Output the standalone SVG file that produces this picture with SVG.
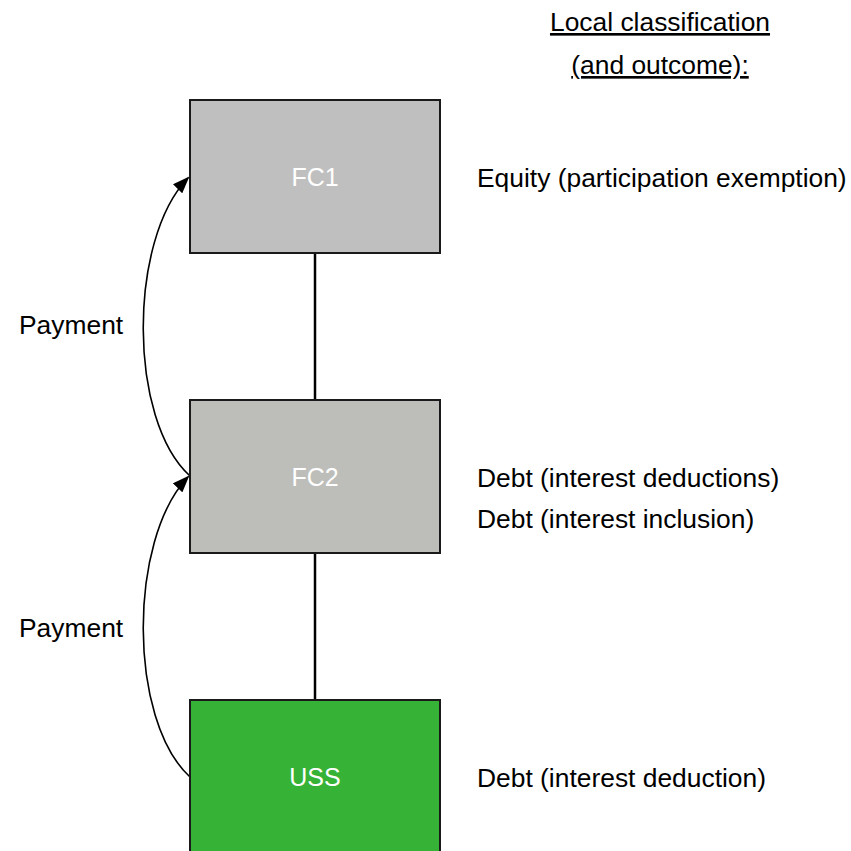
<svg xmlns="http://www.w3.org/2000/svg" width="851" height="851" viewBox="0 0 851 851">
  <style>
    .box { stroke: #1a1a1a; stroke-width: 2; }
    .name { font-family: "Liberation Sans", Arial, sans-serif; font-size: 25px; fill: #ffffff; text-anchor: middle; }
    .lbl { font-family: "Liberation Sans", Arial, sans-serif; font-size: 26.4px; fill: #000000; }
    .link { stroke: #000000; stroke-width: 2.5; fill: none; }
    .pay { stroke: #000000; stroke-width: 1.6; fill: none; marker-end: url(#arrow); }
  </style>
  <defs>
    <marker id="arrow" markerWidth="17" markerHeight="13" refX="15" refY="6.5" orient="auto" markerUnits="userSpaceOnUse">
      <path d="M0,0 L17,6.5 L0,13 Z" fill="#000000"/>
    </marker>
  </defs>
  <rect width="851" height="851" fill="#ffffff"/>

  <!-- ownership links and payment flows -->
  <g id="connectors">
    <line class="link" x1="315" y1="253" x2="315" y2="400"/>
    <line class="link" x1="315" y1="553" x2="315" y2="700"/>
    <path class="pay" d="M190,476 C128,420 128,240 188,178"/>
    <path class="pay" d="M190,777 C128,720 128,540 188,477"/>
  </g>

  <g id="fc1">
    <rect class="box" x="190" y="100" width="250" height="153" fill="#bfbfbf"/>
    <text class="name" x="315" y="186">FC1</text>
  </g>
  <g id="fc2">
    <rect class="box" x="190" y="400" width="250" height="153" fill="#bdbdb9"/>
    <text class="name" x="315" y="486">FC2</text>
  </g>
  <g id="uss">
    <rect class="box" x="190" y="700" width="250" height="160" fill="#36b236"/>
    <text class="name" x="315" y="786">USS</text>
  </g>

  <g id="labels">
    <text class="lbl" x="660" y="31" text-anchor="middle" text-decoration="underline">Local classification</text>
    <text class="lbl" x="660" y="74" text-anchor="middle" text-decoration="underline">(and outcome):</text>
    <text class="lbl" x="477" y="187">Equity (participation exemption)</text>
    <text class="lbl" x="477" y="487">Debt (interest deductions)</text>
    <text class="lbl" x="477" y="528">Debt (interest inclusion)</text>
    <text class="lbl" x="477" y="787">Debt (interest deduction)</text>
    <text class="lbl" x="19" y="334">Payment</text>
    <text class="lbl" x="19" y="637">Payment</text>
  </g>
</svg>
